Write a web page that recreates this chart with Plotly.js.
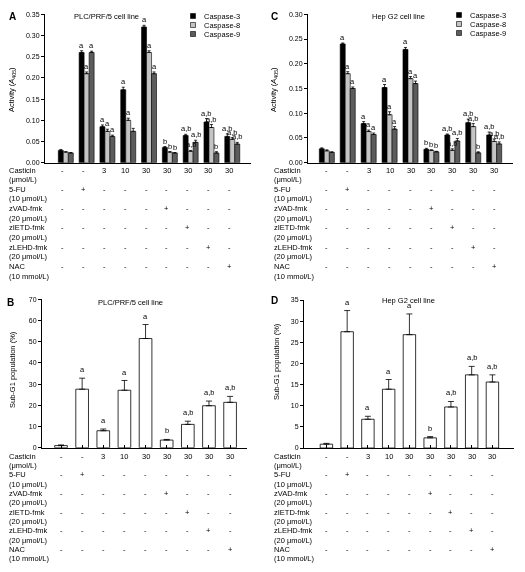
<!DOCTYPE html>
<html><head><meta charset="utf-8">
<script src="https://cdn.plot.ly/plotly-3.0.1.min.js"></script>
<style>html,body{margin:0;padding:0;background:#fff}#chart{width:525px;height:572px;will-change:transform}</style>
</head><body><div id="chart"></div>
<script>
// ---------- DATA ----------
const groups = ['Control','5-FU','Casticin 3','Casticin 10','Casticin 30','Casticin 30 + zVAD-fmk','Casticin 30 + zIETD-fmk','Casticin 30 + zLEHD-fmk','Casticin 30 + NAC'];
const seriesNames = ['Caspase-3','Caspase-8','Caspase-9'];

// Panel A: PLC/PRF/5 caspase activity (A405)
const plcCasp3 = [0.029, 0.260, 0.085, 0.172, 0.320, 0.036, 0.064, 0.096, 0.062];
const plcCasp8 = [0.025, 0.210, 0.074, 0.100, 0.260, 0.025, 0.027, 0.083, 0.055];
const plcCasp9 = [0.023, 0.260, 0.062, 0.074, 0.210, 0.023, 0.048, 0.023, 0.044];
const plcCasp3Err = [0.002, 0.004, 0.004, 0.006, 0.004, 0.002, 0.003, 0.008, 0.006];
const plcCasp8Err = [0.001, 0.004, 0.005, 0.005, 0.004, 0.001, 0.002, 0.007, 0.004];
const plcCasp9Err = [0.001, 0.003, 0.003, 0.007, 0.004, 0.001, 0.005, 0.003, 0.004];
const plcCasp3Sig = ['', 'a', 'a', 'a', 'a', 'b', 'a,b', 'a,b', 'a,b'];
const plcCasp8Sig = ['', 'a', 'a', 'a', 'a', 'b', 'a,b', 'a,b', 'a,b'];
const plcCasp9Sig = ['', 'a', 'a', '', 'a', 'b', 'a,b', 'b', 'a,b'];

// Panel C: Hep G2 caspase activity (A405)
const hepCasp3 = [0.028, 0.240, 0.079, 0.152, 0.229, 0.027, 0.056, 0.081, 0.056];
const hepCasp8 = [0.024, 0.180, 0.063, 0.097, 0.170, 0.025, 0.025, 0.073, 0.043];
const hepCasp9 = [0.021, 0.150, 0.057, 0.068, 0.160, 0.022, 0.044, 0.020, 0.038];
const hepCasp3Err = [0.002, 0.002, 0.004, 0.006, 0.004, 0.002, 0.002, 0.007, 0.006];
const hepCasp8Err = [0.002, 0.004, 0.003, 0.006, 0.004, 0.001, 0.003, 0.006, 0.005];
const hepCasp9Err = [0.001, 0.003, 0.003, 0.005, 0.005, 0.001, 0.005, 0.002, 0.004];
const hepCasp3Sig = ['', 'a', 'a', 'a', 'a', 'b', 'a,b', 'a,b', 'a,b'];
const hepCasp8Sig = ['', 'a', 'a', 'a', 'a', 'b', 'a,b', 'a,b', 'a,b'];
const hepCasp9Sig = ['', 'a', 'a', 'a', 'a', 'b', 'a,b', 'b', 'a,b'];

// Panel B: PLC/PRF/5 sub-G1 population (%)
const plcSubG1 = [1.0, 27.6, 8.0, 27.1, 51.5, 3.6, 11.0, 19.8, 21.4];
const plcSubG1Err = [0.3, 5.2, 0.8, 4.6, 6.6, 0.3, 1.5, 2.2, 2.8];
const plcSubG1Sig = ['', 'a', 'a', 'a', 'a', 'b', 'a,b', 'a,b', 'a,b'];

// Panel D: Hep G2 sub-G1 population (%)
const hepSubG1 = [0.9, 27.5, 6.8, 13.9, 26.8, 2.4, 9.7, 17.3, 15.6];
const hepSubG1Err = [0.2, 5.0, 0.7, 2.3, 4.9, 0.3, 1.3, 2.0, 1.7];
const hepSubG1Sig = ['', 'a', 'a', 'a', 'a', 'b', 'a,b', 'a,b', 'a,b'];

// Treatment table
const rowLabels = ['Casticin', '(\u03bcmol/L)', '5-FU', '(10 \u03bcmol/L)', 'zVAD-fmk', '(20 \u03bcmol/L)', 'zIETD-fmk', '(20 \u03bcmol/L)', 'zLEHD-fmk', '(20 \u03bcmol/L)', 'NAC', '(10 mmol/L)'];
const casticinDose = ['-', '-', '3', '10', '30', '30', '30', '30', '30'];
const fu5 = ['-', '+', '-', '-', '-', '-', '-', '-', '-'];
const zVAD = ['-', '-', '-', '-', '-', '+', '-', '-', '-'];
const zIETD = ['-', '-', '-', '-', '-', '-', '+', '-', '-'];
const zLEHD = ['-', '-', '-', '-', '-', '-', '-', '+', '-'];
const nac = ['-', '-', '-', '-', '-', '-', '-', '-', '+'];
const tableRows = [casticinDose, fu5, zVAD, zIETD, zLEHD, nac];

// ---------- STYLE / LAYOUT ----------
const W = 525, H = 572;
const px = x => x / W, py = y => 1 - y / H;
const FONT = 'Liberation Sans, Arial, sans-serif';
const FS = 7.5;
const seriesColors = ['#000000', '#c4c4c4', '#5c5c5c'];
const BARGAP = 0.28;
const grpW = (1 - BARGAP) / 3;
const idx = groups.map((_, i) => i);

const panels = [
  {letter: 'A', ax: '', title: 'PLC/PRF/5 cell line', xd: [45, 251], xr: [-1, 8.9], yd: [162.7, 14.3], yr: [0, 0.35], dtick: 0.05, fmt: '.2f',
   ytitle: 'Activity (<i>A</i><sub>405</sub>)', ytx: 12, yty: 90, titleX: 106, titleY: 17, letterX: 12, letterY: 17,
   series: [[plcCasp3, plcCasp3Err, plcCasp3Sig], [plcCasp8, plcCasp8Err, plcCasp8Sig], [plcCasp9, plcCasp9Err, plcCasp9Sig]],
   legX: 193, legY: 16, table: {labX: 7, y0: 170, step: 9.65, shift: -3}},
  {letter: 'C', ax: '2', title: 'Hep G2 cell line', xd: [308, 513], xr: [-0.9, 8.9], yd: [162.7, 14.3], yr: [0, 0.30], dtick: 0.05, fmt: '.2f',
   ytitle: 'Activity (<i>A</i><sub>405</sub>)', ytx: 274, yty: 90, titleX: 398, titleY: 16, letterX: 274, letterY: 16,
   series: [[hepCasp3, hepCasp3Err, hepCasp3Sig], [hepCasp8, hepCasp8Err, hepCasp8Sig], [hepCasp9, hepCasp9Err, hepCasp9Sig]],
   legX: 459, legY: 15, table: {labX: 272, y0: 170, step: 9.65, shift: 0}},
  {letter: 'B', ax: '3', title: 'PLC/PRF/5 cell line', xd: [42, 247], xr: [-0.9, 8.8], yd: [447.7, 299.3], yr: [0, 70], dtick: 10, fmt: 'd',
   ytitle: 'Sub-G1 population (%)', ytx: 12, yty: 370, titleX: 130, titleY: 302, letterX: 10, letterY: 302,
   single: [plcSubG1, plcSubG1Err, plcSubG1Sig], table: {labX: 7, y0: 456, step: 9.36, shift: 0}},
  {letter: 'D', ax: '4', title: 'Hep G2 cell line', xd: [304, 514], xr: [-1.08, 9.04], yd: [448, 300], yr: [0, 35], dtick: 5, fmt: 'd',
   ytitle: 'Sub-G1 population (%)', ytx: 276, yty: 362, titleX: 408, titleY: 300, letterX: 274, letterY: 300,
   single: [hepSubG1, hepSubG1Err, hepSubG1Sig], table: {labX: 272, y0: 456, step: 9.36, shift: 0}}
];

const traces = [];
const annotations = [];
const shapes = [];
const layout = {
  width: W, height: H, margin: {l: 0, r: 0, t: 0, b: 0},
  paper_bgcolor: '#fff', plot_bgcolor: '#fff', showlegend: false,
  barmode: 'group', bargap: BARGAP, bargroupgap: 0,
  font: {family: FONT, size: FS, color: '#000'},
  annotations, shapes
};
const txt = (o) => Object.assign({showarrow: false, font: {family: FONT, size: FS, color: '#000'}}, o);

panels.forEach(p => {
  const xk = 'xaxis' + p.ax, yk = 'yaxis' + p.ax;
  const xref = 'x' + p.ax, yref = 'y' + p.ax;
  layout[xk] = {domain: [px(p.xd[0]), px(p.xd[1])], range: p.xr, anchor: yref, type: 'linear',
    showline: true, linecolor: '#000', linewidth: 1, showgrid: false, zeroline: false,
    showticklabels: false, tickvals: p.single ? idx : [], ticks: p.single ? 'inside' : '', ticklen: 3, tickcolor: '#000', fixedrange: true};
  layout[yk] = {domain: [py(p.yd[0]), py(p.yd[1])], range: p.yr, anchor: xref,
    showline: true, linecolor: '#000', linewidth: 1, showgrid: false, zeroline: false,
    ticks: 'outside', ticklen: 3, tickcolor: '#000', dtick: p.dtick, tick0: 0, tickformat: p.fmt,
    tickfont: {family: FONT, size: 7, color: '#000'}, fixedrange: true};

  if (p.series) {
    p.series.forEach((s, k) => {
      traces.push({type: 'bar', x: idx, y: s[0], name: seriesNames[k], xaxis: xref, yaxis: yref,
        marker: {color: seriesColors[k], line: {color: '#000', width: 0.6}},
        error_y: {type: 'data', array: s[1], arrayminus: s[1].map(() => 0), symmetric: false, color: '#000', thickness: 0.8, width: 1.5}});
      s[2].forEach((lab, i) => {
        if (!lab) return;
        annotations.push(txt({xref, yref, x: i + (k - 1) * grpW, y: s[0][i] + s[1][i], text: lab, yanchor: 'bottom', xanchor: 'center', yshift: -1}));
      });
      // legend (manual, compact)
      const ly = p.legY + k * 9;
      shapes.push({type: 'rect', xref: 'paper', yref: 'paper', x0: px(p.legX - 2.5), x1: px(p.legX + 2.5), y0: py(ly + 2.5), y1: py(ly - 2.5),
        fillcolor: seriesColors[k], line: {color: '#000', width: 0.6}});
      annotations.push(txt({xref: 'paper', yref: 'paper', x: px(p.legX + 9), y: py(ly), text: seriesNames[k], xanchor: 'left', yanchor: 'middle'}));
    });
  } else {
    const s = p.single;
    traces.push({type: 'bar', x: idx, y: s[0], name: 'Sub-G1', xaxis: xref, yaxis: yref, width: 0.6,
      marker: {color: '#fff', line: {color: '#000', width: 0.8}},
      error_y: {type: 'data', array: s[1], arrayminus: s[1].map(() => 0), symmetric: false, color: '#000', thickness: 0.8, width: 3}});
    s[2].forEach((lab, i) => {
      if (!lab) return;
      annotations.push(txt({xref, yref, x: i, y: s[0][i] + s[1][i], text: lab, yanchor: 'bottom', xanchor: 'center', yshift: 2}));
    });
  }

  // titles and labels
  annotations.push(txt({xref: 'paper', yref: 'paper', x: px(p.titleX), y: py(p.titleY), text: p.title, xanchor: 'center', yanchor: 'middle'}));
  annotations.push(txt({xref: 'paper', yref: 'paper', x: px(p.letterX), y: py(p.letterY), text: '<b>' + p.letter + '</b>', xanchor: 'center', yanchor: 'middle',
    font: {family: FONT, size: 10, color: '#000'}}));
  annotations.push(txt({xref: 'paper', yref: 'paper', x: px(p.ytx), y: py(p.yty), text: p.ytitle, textangle: -90, xanchor: 'center', yanchor: 'middle'}));

  // treatment table
  const t = p.table;
  rowLabels.forEach((lab, r) => {
    annotations.push(txt({xref: 'paper', yref: 'paper', x: px(t.labX), y: py(t.y0 + r * t.step), text: lab, xanchor: 'left', yanchor: 'middle'}));
  });
  tableRows.forEach((row, r) => {
    row.forEach((v, i) => {
      annotations.push(txt({xref: xref, yref: 'paper', x: i, y: py(t.y0 + 2 * r * t.step), text: v, xanchor: 'center', yanchor: 'middle', xshift: t.shift}));
    });
  });
});

Plotly.newPlot('chart', traces, layout, {displayModeBar: false, staticPlot: true});
</script></body></html>
